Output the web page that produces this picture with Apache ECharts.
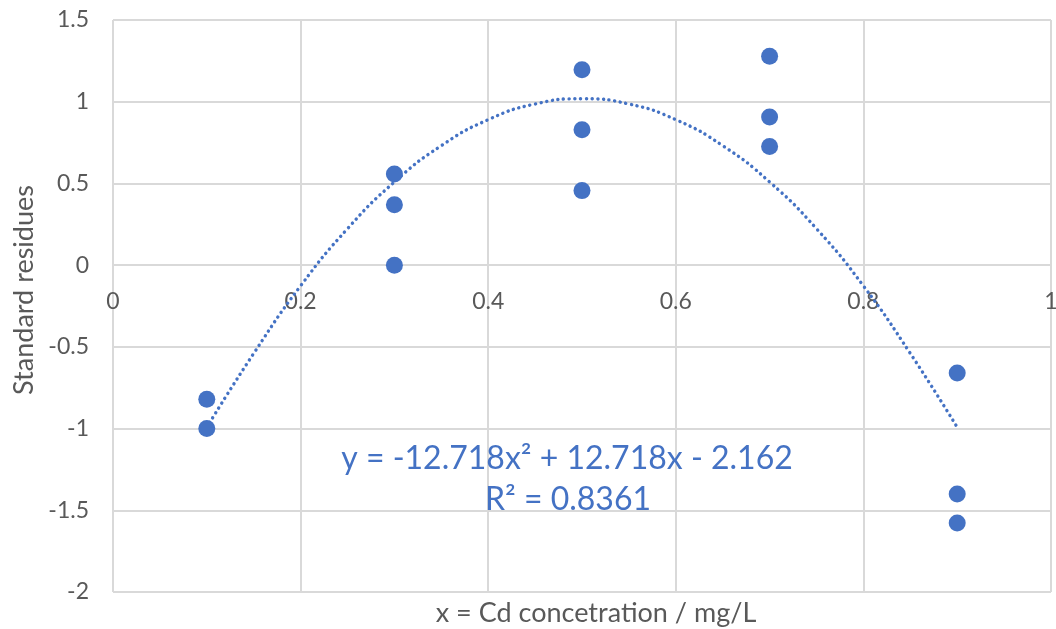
<!DOCTYPE html>
<html>
<head>
<meta charset="utf-8">
<script src="https://cdn.jsdelivr.net/npm/echarts@6/dist/echarts.min.js"></script>
<style>
html,body{margin:0;padding:0;background:#fff;}
#chart{width:1056px;height:629px;}
</style>
</head>
<body>
<div id="chart"></div>
<script>
// Data
const xValues = [0.1, 0.1, 0.3, 0.3, 0.3, 0.5, 0.5, 0.5, 0.7, 0.7, 0.7, 0.9, 0.9, 0.9];
const residues = [-0.82, -1.0, 0.558, 0.37, 0.0, 1.196, 0.828, 0.456, 1.278, 0.906, 0.726, -0.66, -1.40, -1.578];
// Trendline points
const trendX = [0.1, 0.15, 0.2, 0.25, 0.3, 0.35, 0.4, 0.45, 0.5, 0.55, 0.6, 0.65, 0.7, 0.75, 0.8, 0.85, 0.9];
const trendY = [-0.992, -0.540, -0.127, 0.223, 0.509, 0.731, 0.890, 0.986, 1.018, 0.986, 0.890, 0.731, 0.509, 0.223, -0.127, -0.540, -0.992];
const xTicks = ['0', '0.2', '0.4', '0.6', '0.8', '1'];
const yTicks = ['-2', '-1.5', '-1', '-0.5', '0', '0.5', '1', '1.5'];
const equationText = 'y = -12.718x² + 12.718x - 2.162';
const r2Text = 'R² = 0.8361';
const xTitle = 'x = Cd concetration / mg/L';
const yTitle = 'Standard residues';

const blue = '#4472C4';
const grid = '#d9d9d9';
const textCol = '#595959';
const font = 'Lato, "Open Sans", sans-serif';

const gridTop = 20, gridBottom = 37, chartH = 629;
const yMin = -2, yMax = 1.5;
// shift the x axis (line + labels) up so it sits on y = 0
const plotH = chartH - gridTop - gridBottom;
const zeroOffset = -plotH * (0 - yMin) / (yMax - yMin);

const chart = echarts.init(document.getElementById('chart'), null, {renderer: 'canvas'});
chart.setOption({
  animation: false,
  backgroundColor: '#fff',
  grid: {left: 113, right: 5, top: gridTop, bottom: gridBottom, containLabel: false, outerBoundsMode: 'none'},
  xAxis: {
    type: 'value', min: 0, max: 1, interval: 0.2,
    offset: zeroOffset,
    axisLine: {show: true, onZero: false, lineStyle: {color: grid, width: 2}},
    axisTick: {show: false},
    splitLine: {show: true, lineStyle: {color: grid, width: 2}},
    axisLabel: {
      color: textCol, fontFamily: font, fontSize: 23, margin: 25, showMaxLabel: true, showMinLabel: true,
      formatter: function (v) { return xTicks[Math.round(v / 0.2)]; }
    }
  },
  yAxis: {
    type: 'value', min: yMin, max: yMax, interval: 0.5,
    axisLine: {show: false},
    axisTick: {show: false},
    splitLine: {show: true, lineStyle: {color: grid, width: 2}},
    axisLabel: {
      color: textCol, fontFamily: font, fontSize: 23, margin: 24,
      formatter: function (v) { return yTicks[Math.round((v + 2) / 0.5)]; }
    }
  },
  series: [
    {
      type: 'line',
      data: trendX.map((x, i) => [x, trendY[i]]),
      smooth: true,
      showSymbol: false,
      symbol: 'none',
      lineStyle: {color: blue, width: 3.4, type: [0.1, 5.6], cap: 'round'},
      z: 2
    },
    {
      type: 'scatter',
      data: xValues.map((x, i) => [x, residues[i]]),
      symbolSize: 17,
      itemStyle: {color: blue, opacity: 1},
      z: 3
    }
  ],
  graphic: [
    {
      type: 'text', z: 10,
      style: {text: equationText, fill: blue, font: '32px ' + font, textAlign: 'center', textVerticalAlign: 'middle'},
      position: [567, 459]
    },
    {
      type: 'text', z: 10,
      style: {text: r2Text, fill: blue, font: '32px ' + font, textAlign: 'center', textVerticalAlign: 'middle'},
      position: [568, 500]
    },
    {
      type: 'text', z: 10,
      style: {text: xTitle, fill: textCol, font: '27px ' + font, textAlign: 'center', textVerticalAlign: 'middle'},
      position: [596, 613]
    },
    {
      type: 'text', z: 10,
      rotation: Math.PI / 2,
      style: {text: yTitle, fill: textCol, font: '27px ' + font, textAlign: 'center', textVerticalAlign: 'middle'},
      position: [24, 290]
    }
  ]
});
</script>
</body>
</html>
